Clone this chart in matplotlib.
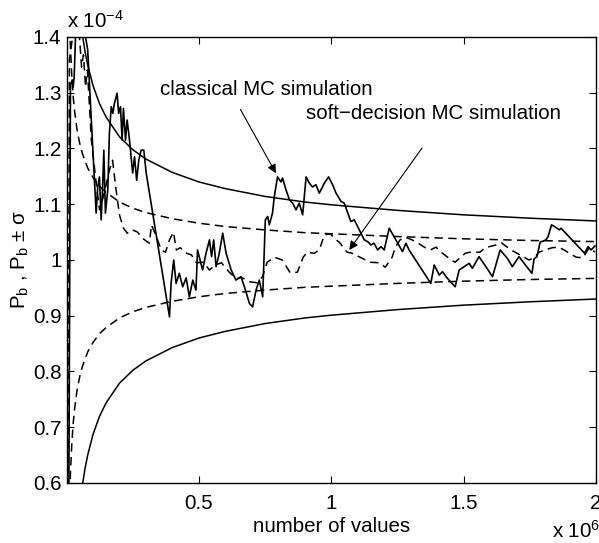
import matplotlib
matplotlib.use("Agg")
import matplotlib.pyplot as plt

plt.rcParams['font.family'] = ['Liberation Sans', 'DejaVu Sans']
plt.rcParams['mathtext.fontset'] = 'custom'
plt.rcParams['mathtext.rm'] = 'Liberation Sans'
plt.rcParams['mathtext.it'] = 'Liberation Sans:italic'

# x in units of 1e6 values, y in units of 1e-4

# confidence bounds (solid = classical, dashed = soft-decision)
bound_x = [0.05, 0.06, 0.07, 0.08, 0.1, 0.125, 0.15, 0.2, 0.25, 0.3, 0.4, 0.5,
           0.6, 0.75, 0.9, 1.0, 1.25, 1.5, 1.75, 2.0]
classic_upper = [1.443, 1.404, 1.374, 1.35, 1.313, 1.28, 1.256, 1.221, 1.198, 1.181,
                 1.157, 1.14, 1.128, 1.114, 1.104, 1.099, 1.089, 1.081, 1.075, 1.07]
classic_lower = [0.557, 0.596, 0.626, 0.65, 0.687, 0.72, 0.744, 0.779, 0.802, 0.819,
                 0.843, 0.86, 0.872, 0.886, 0.896, 0.901, 0.911, 0.919, 0.925, 0.93]

soft_bound_x = [0.01, 0.012, 0.015, 0.02, 0.025, 0.03, 0.04, 0.05, 0.06, 0.08, 0.1,
                0.125, 0.15, 0.2, 0.25, 0.3, 0.4, 0.5, 0.6, 0.75, 0.9, 1.0, 1.25,
                1.5, 1.75, 2.0]
soft_upper = [1.467, 1.426, 1.381, 1.33, 1.295, 1.269, 1.233, 1.209, 1.191, 1.165,
              1.148, 1.132, 1.121, 1.104, 1.093, 1.085, 1.074, 1.066, 1.060, 1.054,
              1.049, 1.047, 1.042, 1.038, 1.035, 1.033]
soft_lower = [0.533, 0.574, 0.619, 0.67, 0.705, 0.731, 0.767, 0.791, 0.809, 0.835,
              0.852, 0.868, 0.879, 0.896, 0.907, 0.915, 0.926, 0.934, 0.940, 0.946,
              0.951, 0.953, 0.958, 0.962, 0.965, 0.967]

# classical MC simulation estimate
classic_x = [0.004, 0.015, 0.0215, 0.025, 0.029, 0.034, 0.049, 0.072, 0.080, 0.112,
             0.118, 0.1245, 0.131, 0.137, 0.141, 0.147, 0.156, 0.162, 0.169, 0.175,
             0.181, 0.191, 0.197, 0.204, 0.210, 0.215, 0.223, 0.229, 0.238, 0.250,
             0.257, 0.265, 0.273, 0.282, 0.292, 0.301, 0.389, 0.395, 0.405, 0.414,
             0.426, 0.439, 0.452, 0.464, 0.477, 0.489, 0.495, 0.514, 0.527, 0.540,
             0.548, 0.556, 0.565, 0.577, 0.590, 0.603, 0.622, 0.640, 0.659, 0.672,
             0.691, 0.703, 0.716, 0.728, 0.741, 0.751, 0.760, 0.766, 0.778, 0.785,
             0.797, 0.810, 0.816, 0.829, 0.842, 0.854, 0.867, 0.879, 0.892, 0.905,
             0.917, 0.929, 0.942, 0.955, 0.974, 0.990, 1.005, 1.018, 1.037, 1.049,
             1.074, 1.087, 1.106, 1.125, 1.137, 1.150, 1.162, 1.175, 1.188, 1.200,
             1.219, 1.244, 1.269, 1.282, 1.294, 1.376, 1.389, 1.408, 1.420, 1.439,
             1.468, 1.483, 1.502, 1.521, 1.533, 1.558, 1.584, 1.609, 1.638, 1.665,
             1.684, 1.709, 1.758, 1.766, 1.777, 1.789, 1.811, 1.819, 1.832, 1.843,
             1.862, 1.868, 1.957, 1.970, 1.981, 1.996]
classic_y = [0.0, 1.314, 1.323, 1.310, 1.328, 1.40, 1.43, 1.40, 1.377, 1.084,
             1.131, 1.149, 1.072, 1.138, 1.197, 1.084, 1.126, 1.227, 1.275, 1.263,
             1.281, 1.299, 1.263, 1.275, 1.215, 1.272, 1.215, 1.251, 1.215, 1.156,
             1.185, 1.143, 1.179, 1.197, 1.197, 1.156, 0.898, 0.958, 1.000, 0.958,
             0.976, 0.952, 0.968, 0.934, 0.964, 0.946, 1.018, 0.982, 1.012, 1.036,
             1.006, 1.036, 0.988, 1.012, 1.048, 1.012, 0.982, 0.964, 0.970, 0.952,
             0.922, 0.916, 0.946, 0.964, 0.934, 1.072, 1.078, 1.063, 1.084, 1.114,
             1.149, 1.140, 1.147, 1.126, 1.108, 1.102, 1.090, 1.102, 1.081, 1.149,
             1.138, 1.131, 1.135, 1.120, 1.138, 1.149, 1.135, 1.120, 1.105, 1.102,
             1.069, 1.072, 1.054, 1.036, 1.033, 1.027, 1.030, 1.018, 1.024, 1.018,
             1.057, 1.036, 1.015, 1.030, 1.018, 0.958, 0.991, 0.973, 0.979, 0.967,
             0.952, 0.982, 0.988, 0.994, 0.985, 1.006, 0.988, 0.970, 1.018, 1.003,
             0.988, 1.006, 0.976, 1.002, 1.006, 1.032, 1.036, 1.042, 1.063, 1.060,
             1.054, 1.057, 1.012, 1.024, 1.018, 1.025]

# soft-decision MC simulation estimate
soft_x = [0.003, 0.011, 0.023, 0.038, 0.049, 0.057, 0.064, 0.072, 0.079, 0.094,
          0.113, 0.125, 0.136, 0.147, 0.162, 0.174, 0.185, 0.200, 0.215, 0.230,
          0.249, 0.268, 0.287, 0.313, 0.321, 0.340, 0.358, 0.374, 0.389, 0.404,
          0.415, 0.430, 0.449, 0.472, 0.491, 0.517, 0.540, 0.562, 0.585, 0.615,
          0.642, 0.660, 0.691, 0.721, 0.740, 0.758, 0.785, 0.815, 0.845, 0.872,
          0.894, 0.909, 0.936, 0.955, 0.974, 0.996, 1.019, 1.030, 1.060, 1.079,
          1.117, 1.147, 1.181, 1.204, 1.230, 1.242, 1.260, 1.279, 1.306, 1.332,
          1.355, 1.374, 1.396, 1.415, 1.453, 1.468, 1.506, 1.525, 1.562, 1.581,
          1.623, 1.642, 1.679, 1.698, 1.747, 1.766, 1.785, 1.808, 1.834, 1.860,
          1.879, 1.925, 1.951, 1.974, 1.996]
soft_y = [0.0, 1.359, 1.40, 1.43, 1.40, 1.346, 1.368, 1.310, 1.341, 1.215,
          1.134, 1.090, 1.108, 1.129, 1.161, 1.179, 1.134, 1.081, 1.057, 1.048,
          1.054, 1.050, 1.039, 1.030, 1.063, 1.041, 1.018, 1.014, 1.036, 1.050,
          1.018, 1.022, 1.013, 1.009, 0.995, 0.996, 0.982, 0.991, 0.995, 0.978,
          0.966, 0.969, 0.961, 0.959, 0.970, 0.996, 1.005, 1.000, 0.977, 0.978,
          1.005, 1.014, 1.012, 1.018, 1.045, 1.047, 1.036, 1.032, 1.014, 1.012,
          1.003, 0.996, 0.995, 0.987, 1.005, 1.023, 1.036, 1.041, 1.036, 1.029,
          1.022, 1.018, 1.023, 1.014, 1.000, 0.996, 1.012, 1.014, 1.014, 1.022,
          1.027, 1.031, 1.018, 1.013, 1.000, 1.004, 1.014, 1.018, 1.022, 1.023,
          1.018, 1.005, 1.004, 1.022, 1.014]

x_ticks = [0.5, 1, 1.5, 2]
x_tick_labels = ['0.5', '1', '1.5', '2']
y_ticks = [0.6, 0.7, 0.8, 0.9, 1.0, 1.1, 1.2, 1.3, 1.4]
y_tick_labels = ['0.6', '0.7', '0.8', '0.9', '1', '1.1', '1.2', '1.3', '1.4']

fs = 14.8

fig = plt.figure(figsize=(5.99, 5.43), dpi=100)
ax = fig.add_axes([0.1119, 0.1105, 0.8831, 0.8214])

dash = (0, (5.5, 3.5))
ax.plot(bound_x, classic_upper, color='k', lw=1.1)
ax.plot(bound_x, classic_lower, color='k', lw=1.1)
ax.plot(soft_bound_x, soft_upper, color='k', lw=1.1, linestyle=dash)
ax.plot(soft_bound_x, soft_lower, color='k', lw=1.1, linestyle=dash)
ax.plot(classic_x, classic_y, color='k', lw=1.2)
ax.plot(soft_x, soft_y, color='k', lw=1.1, linestyle=dash)

ax.set_xlim(0.002, 2)
ax.set_ylim(0.6, 1.4)
ax.set_xticks(x_ticks)
ax.set_xticklabels(x_tick_labels)
ax.set_yticks(y_ticks)
ax.set_yticklabels(y_tick_labels)
ax.tick_params(direction='in', length=5, width=0.8, labelsize=fs,
               top=True, right=True, pad=4)
ax.tick_params(axis='x', pad=8)
for sp in ax.spines.values():
    sp.set_linewidth(1.0)

ax.set_xlabel('number of values', fontsize=fs, labelpad=3)
ax.set_ylabel(r'P$_\mathrm{b}$ , P$_\mathrm{b}$ ± σ', fontsize=fs, labelpad=1)

ax.text(0.0, 1.020, r'x 10$^{-4}$', transform=ax.transAxes, fontsize=fs,
        ha='left', va='baseline')
ax.text(0.917, -0.123, r'x 10$^{6}$', transform=ax.transAxes, fontsize=fs,
        ha='left', va='baseline')

arrow = dict(arrowstyle='-|>', color='k', lw=0.8, mutation_scale=13,
             shrinkA=0, shrinkB=0)
ax.text(0.353, 1.305, 'classical MC simulation', fontsize=fs,
        ha='left', va='center')
ax.annotate('', xy=(0.791, 1.1555), xytext=(0.657, 1.270), arrowprops=arrow)
ax.text(0.9045, 1.263, 'soft\u2212decision MC simulation', fontsize=fs,
        ha='left', va='center')
ax.annotate('', xy=(1.068, 1.018), xytext=(1.343, 1.201), arrowprops=arrow)

fig.savefig('out.png', dpi=100)
